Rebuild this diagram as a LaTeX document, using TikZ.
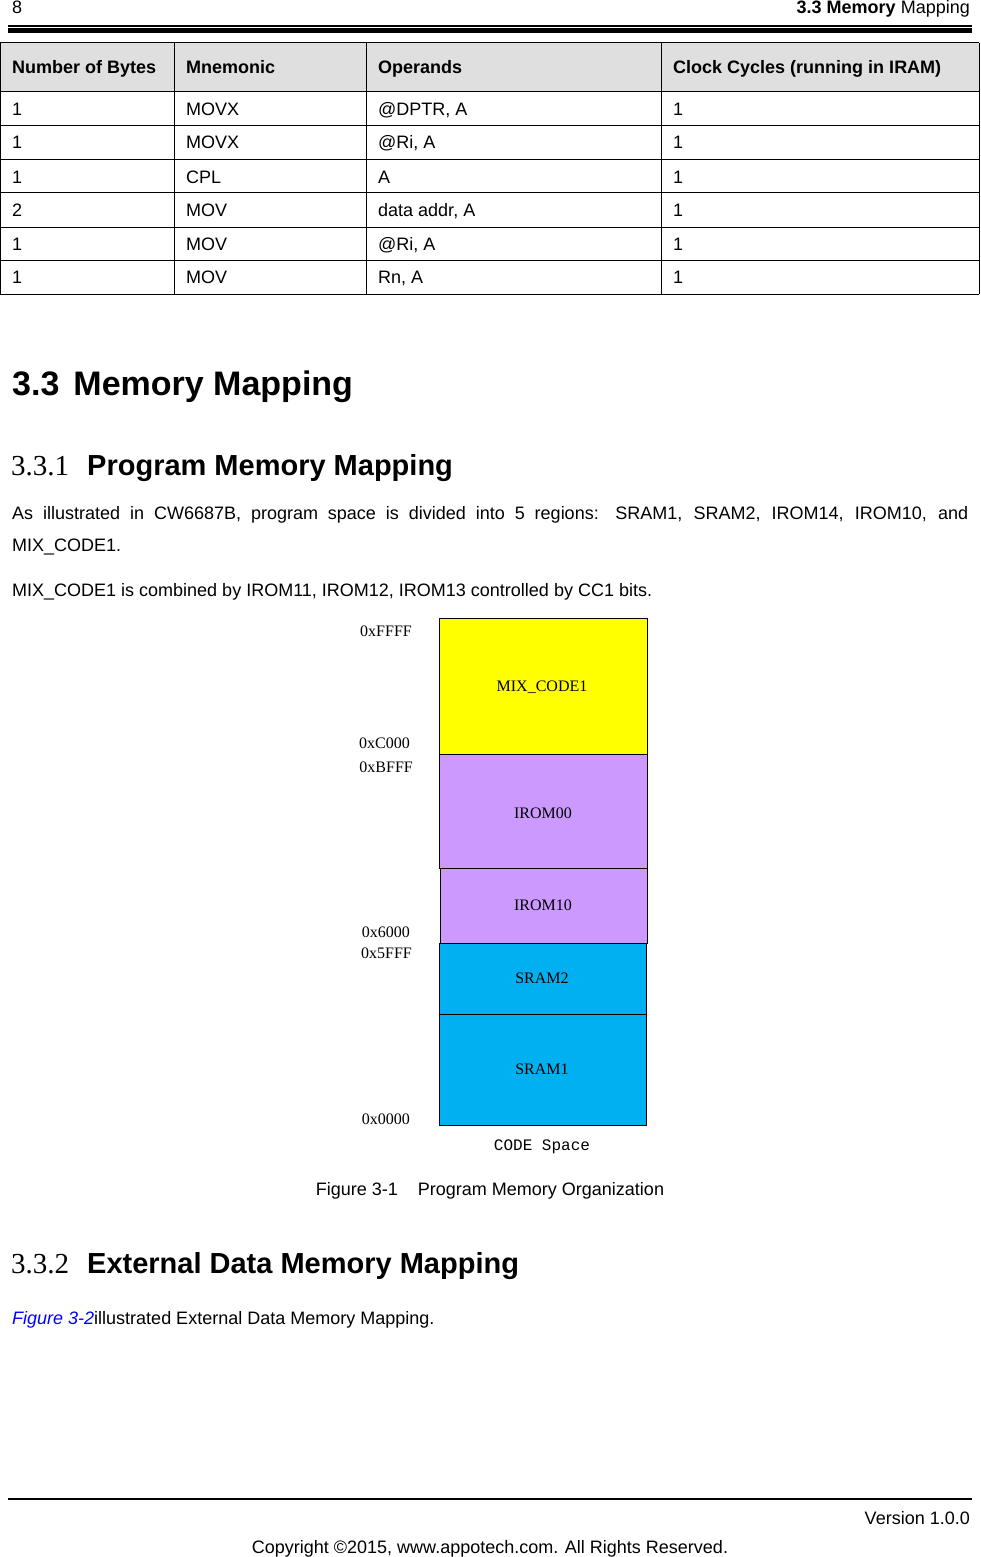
\documentclass[tikz,border=0pt]{standalone}
\usepackage{fontspec}
\setmainfont{Liberation Sans}
\newfontfamily\serifx{Liberation Serif}
\newfontfamily\monox{Liberation Mono}
\definecolor{hdr}{HTML}{DFDFDF}
\definecolor{ylw}{HTML}{FFFF00}
\definecolor{lil}{HTML}{CC99FF}
\definecolor{sky}{HTML}{00B0F0}
\definecolor{lnk}{HTML}{0000FF}
\begin{document}
\begin{tikzpicture}[x=1pt,y=-1pt,
  txt/.style={inner sep=0pt,anchor=base west,font=\fontsize{18}{20}\selectfont},
  lab/.style={inner sep=0pt,anchor=base,font=\serifx\fontsize{16}{18}\selectfont},
  addr/.style={inner sep=0pt,anchor=base east,font=\serifx\fontsize{16}{18}\selectfont},
  mem/.style={draw=black,line width=0.8pt}]
\useasboundingbox (0,0) rectangle (980,1557);
\fill[white] (0,0) rectangle (980,1557);
% page header
\node[txt] (pg) at (12,14) {8};
\node[txt,anchor=base east] (ht) at (970,14) {\textbf{3.3 Memory} Mapping};
\draw[line width=1.2pt] (8,26) -- (972,26);
\draw[line width=5pt] (8,31) -- (972,31);
% table
\fill[hdr] (0,43) rectangle (979,92);
\foreach \y in {43,92,126,160,193,227,260,294} \draw[line width=1pt] (0,\y) -- (979,\y);
\foreach \x in {0,174,366,661,979} \draw[line width=1pt] (\x,43) -- (\x,294);
\node[txt] (h1) at (12,74) {\textbf{Number of Bytes}};
\node[txt] (h2) at (186,74) {\textbf{Mnemonic}};
\node[txt] (h3) at (378,74) {\textbf{Operands}};
\node[txt] (h4) at (673,74) {\textbf{Clock Cycles (running in IRAM)}};
\foreach \y/\a/\b/\c/\d in {116/1/MOVX/{@DPTR, A}/1, 149/1/MOVX/{@Ri, A}/1, 183/1/CPL/A/1, 216/2/MOV/{data addr, A}/1, 250/1/MOV/{@Ri, A}/1, 283/1/MOV/{Rn, A}/1}{
  \node[txt] at (12,\y) {\a};
  \node[txt] at (186,\y) {\b};
  \node[txt] at (378,\y) {\c};
  \node[txt] at (673,\y) {\d};
}
% headings
\node[txt,font=\bfseries\fontsize{34}{38}\selectfont] (s33) at (12,395) {3.3\hspace{14pt}Memory Mapping};
\node[txt,font=\serifx\fontsize{29}{32}\selectfont] (n331) at (11,475) {3.3.1};
\node[txt,font=\bfseries\fontsize{29}{32}\selectfont] (t331) at (87,475) {Program Memory Mapping};
\node[txt,anchor=north west,text width=956pt,align=justify,font=\fontsize{18}{32}\selectfont] (p1) at (12,506)
  {As illustrated in CW6687B, program space is divided into 5 regions: SRAM1, SRAM2, IROM14, IROM10, and MIX\_CODE1.};
\node[txt] (p2) at (12,596) {MIX\_CODE1 is combined by IROM11, IROM12, IROM13 controlled by CC1 bits.};
% memory map
\filldraw[mem,fill=ylw] (439,618) rectangle (647,754);
\filldraw[mem,fill=lil] (439,754) rectangle (647,868);
\filldraw[mem,fill=lil] (440,868) rectangle (647,943);
\filldraw[mem,fill=sky] (439,943) rectangle (646,1014);
\filldraw[mem,fill=sky] (439,1014) rectangle (646,1125);
\node[lab] (m1) at (542,691) {MIX\_CODE1};
\node[lab] (m2) at (543,818) {IROM00};
\node[lab] (m3) at (543,910) {IROM10};
\node[lab] (m4) at (542,983) {SRAM2};
\node[lab] (m5) at (542,1074) {SRAM1};
\node[addr] (a1) at (412,636) {0xFFFF};
\node[addr] (a2) at (410,748) {0xC000};
\node[addr] (a3) at (413,772) {0xBFFF};
\node[addr] (a4) at (410,937) {0x6000};
\node[addr] (a5) at (412,958) {0x5FFF};
\node[addr] (a6) at (410,1124) {0x0000};
\node[lab,font=\monox\fontsize{16}{18}\selectfont] (cs) at (542,1150) {CODE Space};
\node[txt,anchor=base] (cap) at (490,1195) {Figure 3-1\hspace{20pt}Program Memory Organization};
\node[txt,font=\serifx\fontsize{29}{32}\selectfont] (n332) at (11,1273) {3.3.2};
\node[txt,font=\bfseries\fontsize{29}{32}\selectfont] (t332) at (87,1273) {External Data Memory Mapping};
\node[txt] (p3) at (12,1324) {\textcolor{lnk}{\itshape Figure 3-2}illustrated External Data Memory Mapping.};
% footer
\draw[line width=2.5pt] (8,1499) -- (972,1499);
\node[txt,anchor=base east] (ver) at (970,1524) {Version 1.0.0};
\node[txt,anchor=base] (cp) at (490,1553) {Copyright \textcopyright2015, www.appotech.com. All Rights Reserved.};
\end{tikzpicture}
\end{document}
